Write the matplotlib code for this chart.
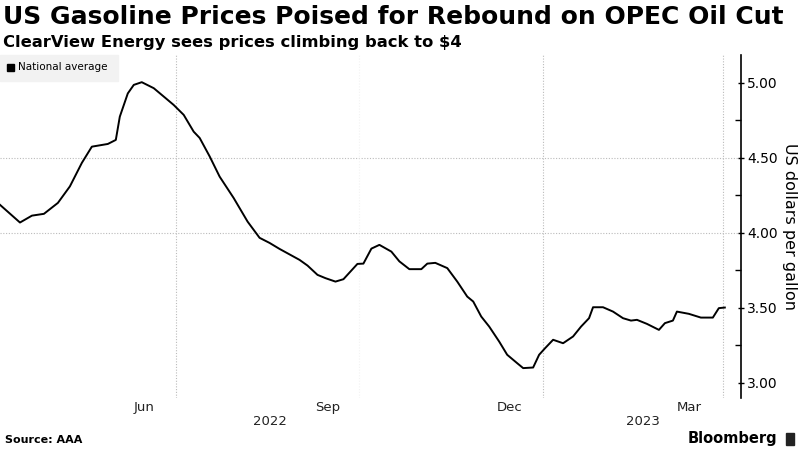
import matplotlib
matplotlib.use("Agg")
import matplotlib.pyplot as plt
import matplotlib.dates as mdates
import pandas as pd

# weekly-ish readings of the AAA national average
dates = ["2022-04-04", "2022-04-14", "2022-04-20", "2022-04-26", "2022-05-03", "2022-05-09",
         "2022-05-15", "2022-05-20", "2022-05-28", "2022-06-01", "2022-06-03", "2022-06-07",
         "2022-06-10", "2022-06-14", "2022-06-20", "2022-06-26", "2022-06-30", "2022-07-05",
         "2022-07-10", "2022-07-13", "2022-07-18", "2022-07-23", "2022-07-30", "2022-08-06",
         "2022-08-12", "2022-08-17", "2022-08-22", "2022-09-01", "2022-09-05", "2022-09-10",
         "2022-09-14", "2022-09-19", "2022-09-23", "2022-09-30", "2022-10-03", "2022-10-07",
         "2022-10-11", "2022-10-17", "2022-10-21", "2022-10-26", "2022-11-01", "2022-11-04",
         "2022-11-08", "2022-11-14", "2022-11-19", "2022-11-24", "2022-11-27", "2022-12-01",
         "2022-12-05", "2022-12-10", "2022-12-14", "2022-12-19", "2022-12-22", "2022-12-27",
         "2022-12-30", "2023-01-02", "2023-01-06", "2023-01-11", "2023-01-16", "2023-01-20",
         "2023-01-24", "2023-01-26", "2023-01-31", "2023-02-05", "2023-02-10", "2023-02-14",
         "2023-02-17", "2023-02-22", "2023-02-28", "2023-03-03", "2023-03-07", "2023-03-09",
         "2023-03-15", "2023-03-21", "2023-03-27", "2023-03-30", "2023-04-02"]
prices = [4.187, 4.069, 4.115, 4.127, 4.20, 4.31,
          4.467, 4.575, 4.593, 4.62, 4.775, 4.93,
          4.987, 5.005, 4.965, 4.898, 4.853, 4.787,
          4.675, 4.633, 4.51, 4.375, 4.233, 4.075,
          3.967, 3.933, 3.893, 3.82, 3.782, 3.72,
          3.698, 3.675, 3.691, 3.793, 3.795, 3.895,
          3.92, 3.875, 3.81, 3.758, 3.758, 3.795,
          3.80, 3.765, 3.675, 3.575, 3.542, 3.442,
          3.375, 3.275, 3.187, 3.131, 3.098, 3.102,
          3.187, 3.231, 3.287, 3.264, 3.309, 3.375,
          3.431, 3.504, 3.504, 3.475, 3.431, 3.415,
          3.42, 3.393, 3.353, 3.398, 3.415, 3.475,
          3.46, 3.435, 3.435, 3.498, 3.502]

month_ticks = ["2022-06-15", "2022-09-15", "2022-12-15", "2023-03-15"]
month_labels = ["Jun", "Sep", "Dec", "Mar"]
year_pos = ["2022-08-17", "2023-02-20"]
year_labels = ["2022", "2023"]
vgrid = ["2022-07-01", "2023-01-01", "2023-04-01"]

d = pd.to_datetime(dates)

fig = plt.figure(figsize=(8, 4.5), dpi=100)
ax = fig.add_axes([0.0, 0.116, 0.926, 0.762])

ax.plot(d, prices, color="black", lw=1.4)

ax.set_xlim(pd.Timestamp("2022-04-04"), pd.Timestamp("2023-04-10"))
ax.set_ylim(2.90, 5.187)

for s in ["top", "left", "bottom"]:
    ax.spines[s].set_visible(False)
ax.spines["right"].set_color("black")
ax.spines["right"].set_linewidth(1.2)

ax.yaxis.tick_right()
ax.set_yticks([3.0, 3.5, 4.0, 4.5, 5.0])
ax.set_yticklabels(["3.00", "3.50", "4.00", "4.50", "5.00"])
ax.set_yticks([3.25, 3.75, 4.25, 4.75], minor=True)
ax.tick_params(axis="y", which="both", direction="in", length=4, width=1,
               labelsize=10, colors="black", pad=2)
ax.tick_params(axis="y", which="major", direction="inout", length=5)
ax.yaxis.set_label_position("right")
ax.set_ylabel("US dollars per gallon", rotation=270, labelpad=14, fontsize=11.5)

# horizontal grid only at 4.00 and 4.50
for v in [4.0, 4.5]:
    ax.axhline(v, color="#bbbbbb", lw=0.8, ls=(0, (1, 1.5)), zorder=0)
for v in vgrid:
    ax.axvline(pd.Timestamp(v), color="#bbbbbb", lw=0.8, ls=(0, (1, 1.5)), zorder=0)
ax.axvline(pd.Timestamp("2022-10-01"), color="#f3f3f3", lw=0.8, ls=(0, (1, 1.5)), zorder=0)

ax.set_xticks(pd.to_datetime(month_ticks))
ax.set_xticklabels(month_labels)
ax.tick_params(axis="x", length=0, labelsize=9.5, pad=2, colors="#222222")
for p, t in zip(pd.to_datetime(year_pos), year_labels):
    ax.text(p, -0.05, t, transform=ax.get_xaxis_transform(), ha="center", va="top",
            fontsize=9.5, color="#222222")

# legend box
fig.patches.append(plt.Rectangle((0.0, 1 - 81 / 450), 118 / 800, 26 / 450,
                                 transform=fig.transFigure, color="#f2f2f2", zorder=0))
fig.patches.append(plt.Rectangle((7 / 800, 1 - 71 / 450), 7 / 800, 7 / 450,
                                 transform=fig.transFigure, color="black"))
fig.text(18 / 800, 1 - 67.5 / 450, "National average", fontsize=7.5, va="center", ha="left")

fig.text(0.004, 1 - 17 / 450, "US Gasoline Prices Poised for Rebound on OPEC Oil Cut",
         fontsize=18, fontweight="bold", va="center", ha="left")
fig.text(0.004, 1 - 42 / 450, "ClearView Energy sees prices climbing back to $4",
         fontsize=11.8, fontweight="bold", va="center", ha="left")

fig.text(0.006, 1 - 440 / 450, "Source: AAA", fontsize=8, fontweight="bold",
         va="center", ha="left")
fig.text(0.972, 1 - 439 / 450, "Bloomberg", fontsize=10.5, fontweight="bold",
         va="center", ha="right")
fig.patches.append(plt.Rectangle((786 / 800, 1 - 445 / 450), 8 / 800, 12 / 450,
                                 transform=fig.transFigure, color="#222222"))

fig.savefig("out.png", dpi=100)
